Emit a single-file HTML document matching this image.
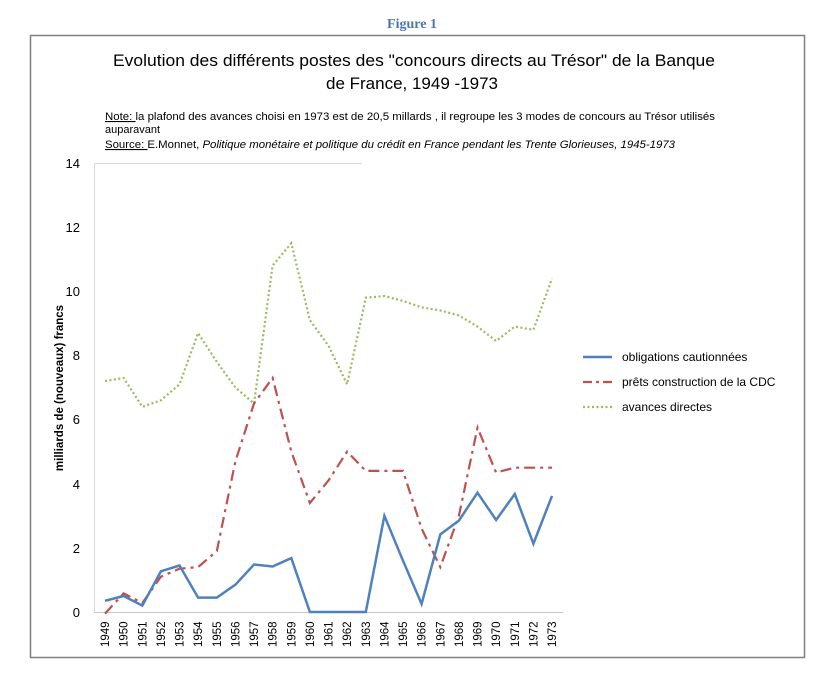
<!DOCTYPE html>
<html><head><meta charset="utf-8"><style>
body{margin:0;background:#fff;width:814px;height:673px;overflow:hidden}
svg{font-family:"Liberation Sans",sans-serif}
</style></head><body>
<svg width="814" height="673" xmlns="http://www.w3.org/2000/svg">
<text x="412" y="28" text-anchor="middle" font-family="Liberation Serif,serif" font-weight="bold" font-size="14" fill="#4a76b0">Figure 1</text>
<rect x="30.5" y="35.5" width="774" height="622" fill="none" stroke="#808080" stroke-width="1.5"/>
<text x="113" y="66" textLength="602" lengthAdjust="spacingAndGlyphs" font-size="17" fill="#000">Evolution des différents postes des "concours directs au Trésor" de la Banque</text>
<text x="412" y="89" text-anchor="middle" font-size="17" fill="#000">de France, 1949 -1973</text>
<g font-size="11" fill="#000">
<text x="105" y="120" textLength="610" lengthAdjust="spacingAndGlyphs"><tspan text-decoration="underline">Note: </tspan>la plafond des  avances choisi  en 1973 est de 20,5 millards , il regroupe les 3 modes de  concours au Trésor utilisés</text>
<text x="105" y="133">auparavant</text>
<text x="105" y="148" textLength="570" lengthAdjust="spacingAndGlyphs"><tspan text-decoration="underline">Source: </tspan> E.Monnet, <tspan font-style="italic">Politique monétaire et politique du crédit en France pendant les Trente Glorieuses, 1945-1973</tspan></text>
</g>
<g stroke="#d9d9d9" stroke-width="1">
<line x1="94" y1="163.5" x2="362" y2="163.5"/>
<line x1="94.5" y1="163" x2="94.5" y2="612"/>
</g>
<line x1="94" y1="612.5" x2="563" y2="612.5" stroke="#c8c8c8"/>
<g font-size="13" text-anchor="end" fill="#000">
<text x="80" y="617">0</text><text x="80" y="553">2</text><text x="80" y="489">4</text><text x="80" y="424">6</text><text x="80" y="360">8</text><text x="80" y="296">10</text><text x="80" y="232">12</text><text x="80" y="168">14</text>
</g>
<text transform="translate(63,388) rotate(-90)" text-anchor="middle" font-size="11.5" font-weight="bold">milliards de (nouveaux) francs</text>
<g id="xl" font-size="11.5"></g>
<polyline id="g" fill="none" stroke="#9bbb59" stroke-width="2.2" stroke-dasharray="2,2.5"/>
<polyline id="r" fill="none" stroke="#c0504d" stroke-width="2.2" stroke-dasharray="11,5,3,5"/>
<polyline id="b" fill="none" stroke="#4f81bd" stroke-width="2.5"/>
<line x1="583" y1="357" x2="612" y2="357" stroke="#4f81bd" stroke-width="2.5"/>
<line x1="583" y1="382" x2="612" y2="382" stroke="#c0504d" stroke-width="2.2" stroke-dasharray="9,4,3,4"/>
<line x1="583" y1="407" x2="612" y2="407" stroke="#9bbb59" stroke-width="2.2" stroke-dasharray="2,2.5"/>
<g font-size="12"><text x="622" y="361">obligations cautionnées</text><text x="622" y="386">prêts construction de la CDC</text><text x="622" y="411">avances directes</text></g>
</svg>
<script>
const B=[0.35,0.5,0.2,1.27,1.45,0.45,0.45,0.85,1.48,1.42,1.68,0,0,0,0,3,1.6,0.25,2.42,2.85,3.72,2.87,3.68,2.13,3.62];
const R=[-0.05,0.58,0.28,1.1,1.35,1.4,1.9,4.7,6.5,7.3,5.0,3.4,4.1,5.0,4.4,4.4,4.4,2.6,1.4,3.0,5.75,4.35,4.5,4.5,4.5];
const G=[7.2,7.3,6.4,6.6,7.1,8.7,7.8,7.0,6.5,10.8,11.5,9.1,8.3,7.1,9.8,9.85,9.7,9.5,9.4,9.25,8.9,8.45,8.9,8.8,10.4];
const X=i=>105+i*18.625, Y=v=>612-v*32.07;
const pts=a=>a.map((v,i)=>X(i).toFixed(1)+","+Y(v).toFixed(1)).join(" ");
document.getElementById('b').setAttribute('points',pts(B));
document.getElementById('r').setAttribute('points',pts(R));
document.getElementById('g').setAttribute('points',pts(G));
let s="";for(let i=0;i<25;i++){s+=`<text transform="translate(${X(i)+4},647) rotate(-90)">${1949+i}</text>`;}
document.getElementById('xl').innerHTML=s;
</script>
</body></html>
